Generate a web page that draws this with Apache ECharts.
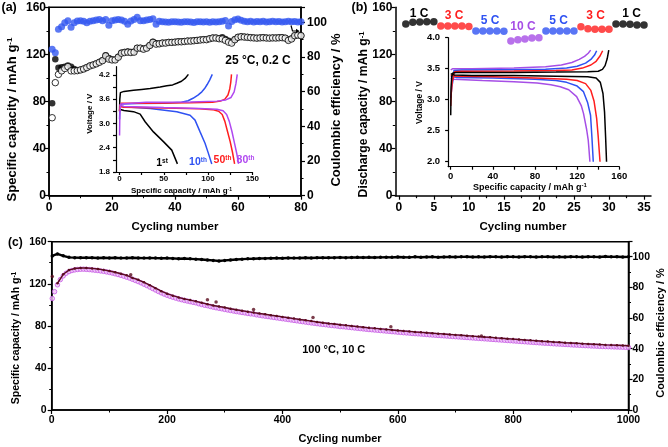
<!DOCTYPE html>
<html><head><meta charset="utf-8">
<script src="https://cdn.jsdelivr.net/npm/echarts@6/dist/echarts.min.js"></script>
<style>html,body{margin:0;padding:0;background:#fff}#c{width:668px;height:447px}</style>
</head><body><div id="c"></div>
<script>
// ================= Panel (a): 25 °C, 0.2 C =================
const aDischarge = [66.2,96,103,106,108,109.6,106,106,106.2,106.8,
 107.6,108.8,110.2,111,112,113.3,114.7,118.7,116,115.3,
 115.3,117.6,121,121.6,121.9,121.6,121.9,125.3,125.3,124.4,
 125.3,127.6,130.2,128.7,129,129.6,129.6,130.2,130.2,130.4,
 130.7,130.7,131,131.3,131.3,131.6,131.9,132.2,132.5,132.5,
 133.3,133.9,133.9,133.3,133.1,131.9,130.4,129.6,132.5,134.5,
 135,134.7,134.5,134.2,134,133.8,134,134.2,133.9,133.8,
 134,133.9,134.1,134.2,133.8,131.9,133.1,135.9,136.4,135.9];
const aCharge = [78.5,115.8,108.6,109,109.5,110.5,109.5,107.5,106.5,107,
 107.8,109,110.4,111.2,112.2,113.5,115,119.2,117,115.6,
 115.5,118,121.3,122,122.4,122,122.2,125.5,125.5,124.7,
 125.5,127.8,130.8,129.5,129.2,129.8,129.8,130.4,130.4,130.6,
 130.9,130.9,131.2,131.5,131.5,131.8,132.1,132.4,132.7,132.7,
 133.5,134.1,134.1,133.6,134.5,133,131.5,130.5,132.8,134.7,
 135.2,134.9,134.7,134.4,134.2,134,134.2,134.4,134.1,134,
 134.2,134.1,134.3,134.4,134,132.5,133.5,136.1,136.6,136.1];
const aCE = [84.4,82.4,95.9,97.4,99.7,100.9,97.1,99.7,100.7,100.9,
 100.5,99.7,100.5,100.9,101.3,101.6,100.9,101.6,98.3,100.9,
 101.3,101.6,101.3,100.5,98.9,100.7,101.6,102.8,100.9,100.9,
 101.3,101.6,102,98.9,100.5,100.3,100.1,100,100.2,100.3,
 100.1,100,100.2,100.3,100.1,99.9,100.2,100.3,100.1,100.2,
 100,100.3,100.1,100.2,100.6,101,97.8,100.4,101.4,101.8,
 101.2,100.6,100.3,100.5,100.1,100.4,100.2,100.6,100.1,100.3,
 100.5,100.2,100.4,100.1,100.3,100.5,100.2,100.4,100.1,100.3];

// inset (a): voltage profiles (cycles 1, 10, 50, 80)
const a1ChargeCap = [0,0.3,1,5,15.8,25,34.6,45.9,53.4,60,64.7,70,74.1,77.8];
const a1ChargeV   = [3.3,3.6,3.76,3.79,3.82,3.84,3.86,3.9,3.93,3.95,3.99,4.04,4.11,4.21];
const a1DischCap  = [0,5,15.8,23.3,28.9,38.3,49.6,59,65.4];
const a1DischV    = [3.35,3.32,3.29,3.23,3.04,2.79,2.55,2.34,2.0];
const a10ChargeCap = [0,0.5,2,20,50,70,77.4,83,88.6,93,96.1,99,101.8,104.8];
const a10ChargeV   = [3.1,3.4,3.48,3.49,3.5,3.52,3.56,3.62,3.7,3.78,3.86,3.96,4.07,4.21];
const a10DischCap  = [0,5,34.6,64.7,79.7,85.3,91,96.6,100.4,104.2];
const a10DischV    = [3.43,3.41,3.37,3.29,3.2,3.08,2.79,2.51,2.26,2.0];
const a50ChargeCap = [0,0.5,2,30,80,105,114,119,122.5,124.5,125.7,126.5];
const a50ChargeV   = [3.3,3.45,3.5,3.5,3.51,3.52,3.55,3.6,3.7,3.85,4.02,4.21];
const a50DischCap  = [0,5,50,90,105,112,116,119,122,125,127.5,130];
const a50DischV    = [3.42,3.4,3.38,3.36,3.34,3.3,3.22,3.05,2.8,2.55,2.3,2.0];
const a80ChargeCap = [0,0.3,1,3,30,80,110,120,126,129.5,131.5,133];
const a80ChargeV   = [2.7,3.2,3.48,3.52,3.52,3.53,3.55,3.58,3.64,3.78,3.98,4.21];
const a80DischCap  = [0,5,50,90,110,117,121,124,127,130,132.5,134.5];
const a80DischV    = [3.45,3.42,3.39,3.37,3.35,3.31,3.22,3.05,2.8,2.5,2.25,2.0];
const aInsetXLabels = [0,50,100,150];
const aInsetXTicks = [0,25,50,75,100,125,150];
const aInsetYLabels = [1.8,2.4,3.0,3.6,4.2];
const aInsetYTicks = [1.8,2.1,2.4,2.7,3.0,3.3,3.6,3.9,4.2];

// ================= Panel (b): rate capability =================
const bRates = ['1 C','3 C','5 C','10 C','5 C','3 C','1 C'];
const bCapacity = [
 [145.8,147.2,147.5,147.8,147.8],
 [144.1,144.1,144.1,144.1,143.6],
 [139.9,139.9,139.9,139.9,139.6],
 [131.4,132.5,133.1,133.9,134.2],
 [139.9,139.9,139.9,139.9,139.9],
 [143.5,141.8,141.3,141.3,141.3],
 [145.8,145.8,145.5,145,145]];
const bXLabels = [0,5,10,15,20,25,30,35];
const bXMinor = [2.5,7.5,12.5,17.5,22.5,27.5,32.5];

// inset (b): profiles at 1, 3, 5, 10 C
const b1ChargeCap = [0,0.3,1,2,5,20,60,100,130,140,144,146.5,148.5,150];
const b1ChargeV   = [2.75,3.2,3.38,3.43,3.44,3.44,3.44,3.445,3.45,3.46,3.49,3.55,3.66,3.8];
const b1DischCap  = [0,3,20,60,100,130,138,142,144.5,146,147,147.9];
const b1DischV    = [3.42,3.4,3.39,3.39,3.38,3.37,3.35,3.28,3.1,2.8,2.4,2.0];
const b3ChargeCap = [0,0.5,1.5,2.5,3.5,10,60,100,115,125,133,138,141.5,144.2];
const b3ChargeV   = [2.9,3.1,3.3,3.35,3.45,3.46,3.465,3.47,3.48,3.51,3.56,3.62,3.7,3.79];
const b3DischCap  = [0,5,40,80,110,120,128,133,136,138.5,140,141.7];
const b3DischV    = [3.4,3.38,3.37,3.35,3.33,3.31,3.26,3.15,2.98,2.7,2.4,2.0];
const b5ChargeCap = [0,1,2.5,3,10,50,90,110,120,128,133,136.5,138.5];
const b5ChargeV   = [3.03,3.2,3.35,3.47,3.48,3.485,3.49,3.51,3.54,3.59,3.65,3.72,3.79];
const b5DischCap  = [0,5,40,80,100,110,120,126,130,132.7,134,135.3];
const b5DischV    = [3.38,3.36,3.35,3.33,3.31,3.28,3.22,3.13,2.95,2.75,2.4,2.0];
const b10ChargeCap = [0,2,20,60,90,105,115,122,127,130.5,132.8];
const b10ChargeV   = [3.48,3.5,3.5,3.51,3.53,3.56,3.6,3.65,3.7,3.75,3.8];
const b10DischCap  = [0,3,30,60,82,95,104,112,119.5,124,126,127.5,129,130.5,131,131.5,132.1];
const b10DischV    = [3.35,3.33,3.31,3.29,3.27,3.24,3.21,3.16,3.05,2.9,2.78,2.65,2.52,2.35,2.25,2.25,2.0];
const bInsetXLabels = [0,40,80,120,160];
const bInsetXTicks = [0,20,40,60,80,100,120,140,160];
const bInsetYLabels = [2.0,2.5,3.0,3.5,4.0];

// ================= Panel (c): 100 °C, 10 C, 1000 cycles =================
// discharge capacity, cycle 1 then every 5 cycles (5, 10, ..., 1000)
const cDischarge = [106,112.5,119,124,127.5,130,131.6,132.6,133.2,133.6,
 133.8,133.9,133.7,133.5,133.2,132.9,132.6,132.2,131.8,131.3,
 130.8,130.2,129.5,128.8,128,127.2,126.3,125.4,124.3,123.2,
 122.1,120.9,119.6,118.3,116.9,115.5,114.1,112.7,111.4,110.2,
 109.1,108.1,107.2,106.4,105.6,104.9,104.2,103.6,103,102.4,
 101.9,101,100.3,99.6,99.2,98.4,97.8,97.2,96.7,96.2,
 95.6,95.1,94.6,94.1,93.6,93.2,92.7,92.3,91.8,91.4,
 91.2,90.5,90.1,89.6,89.2,88.8,88.4,88,87.6,87.2,
 86.8,86.4,86,85.6,85.2,84.8,84.4,84,83.6,83.2,
 82.8,82.5,82.1,81.7,81.4,81.1,80.7,80.4,80.1,79.8,
 79.3,79.2,78.9,78.6,78.3,78,77.7,77.4,77.1,76.8,
 76.5,76.3,76,75.8,75.5,75.3,75,74.8,74.5,74.3,
 74,73.8,73.5,73.3,73.1,72.8,72.6,72.4,72.2,72,
 71.8,71.5,71.3,71.1,70.9,70.7,70.5,70.3,70.1,69.9,
 69.7,69.5,69.3,69.1,68.9,68.7,68.5,68.3,68.1,67.9,
 67.7,67.5,67.3,67.1,66.9,66.7,66.5,66.3,66.1,65.9,
 65.7,65.5,65.3,65.1,64.9,64.7,64.5,64.3,64.1,63.9,
 63.7,63.5,63.4,63.2,63,62.8,62.7,62.5,62.3,62.2,
 62,61.8,61.7,61.5,61.4,61.2,61.1,60.9,60.8,60.7,
 60.5,60.4,60.3,60.2,60.1,60,59.9,59.8,59.7,59.6,
 59.5];
// charge capacity every 10 cycles (10, 20, ..., 1000)
const cCharge = [120.5,129,133,134.5,135,135,134.6,134,133.2,132.2,
 131,129.5,128,125.6,123.8,121.4,118.6,115.8,113,110.6,
 108.7,107,105.6,104.5,103.3,102,100.6,99.4,98.4,97.4,
 96.3,95.3,94.4,93.5,92.6,91.8,91,90.1,89.3,88.5,
 87.7,86.9,86.1,85.3,84.5,83.7,83,82.3,81.7,81.1,
 80.5,79.9,79.3,78.7,78.1,77.6,77.1,76.6,76.1,75.6,
 75.1,74.7,74.2,73.8,73.4,73,72.6,72.2,71.8,71.4,
 71,70.6,70.2,69.8,69.4,69.1,68.6,68.2,67.8,67.4,
 67,66.6,66.2,65.8,65.4,65.1,64.7,64.4,64,63.7,
 63.4,63.1,62.8,62.5,62.2,61.9,61.7,61.5,61.3,61.1];
// isolated high charge-capacity points [cycle, capacity]
const cChargeOutliers = [[1,127],[137,128.6],[270,104.8],[285,102.6],[350,95.6],[453,88],[588,79.2],[745,70.3]];
// coulombic efficiency, cycle 1 then every 10 cycles
const cCE = [100.5,101.8,100.6,99.6,99.4,99.3,99.4,99.3,99.2,99.3,99.2,
 99.3,99.1,99.2,99.3,99.2,99.1,99.2,99.1,99,99.1,
 98.9,98.7,98.8,98.6,98.4,98.2,97.9,97.6,97.2,97.6,
 97.9,98.2,98.4,98.6,98.7,98.8,98.9,99,99.1,99,
 99.2,99.1,99.2,99.3,99.2,99.3,99.4,99.3,99.4,99.5,
 99.4,99.5,99.6,99.5,99.6,99.5,99.6,99.7,99.6,99.8,
 99.7,99.6,99.9,99.7,99.8,99.9,99.7,99.8,99.9,99.8,
 99.9,100,99.8,99.9,99.8,100,99.9,99.8,100,99.9,
 99.8,100,99.9,99.8,99.9,100,99.8,99.9,99.8,100,
 99.9,99.8,100,99.9,99.8,100.1,99.9,100,99.8,99.9];

// ================= chart =================
const FF = '"Liberation Sans", Arial, Helvetica, sans-serif';
const BLUE = '#2f52f2', RED = '#ff1e1e', PURPLE = '#a64ee6', BLACK = '#000';
const rateColor = {'1 C':BLACK,'3 C':RED,'5 C':BLUE,'10 C':PURPLE};
const zip = (xs, ys) => xs.map((x, i) => [x, ys[i]]);

function axis(p) {
  const a = {
    type: 'value', gridIndex: p.grid, min: p.min, max: p.max, position: p.position,
    axisLine: {show: p.line !== false, onZero: false, lineStyle: {color: '#000', width: p.lw || 1.5}},
    axisTick: {show: p.ticks !== false, inside: false, length: p.tickLen || 4, lineStyle: {color: '#000', width: 1.2}},
    minorTick: {show: !!p.minor, splitNumber: p.minor || 2, length: p.minorLen || 2.5, lineStyle: {color: '#000', width: 1}},
    axisLabel: {show: p.labels !== false, color: '#000', fontFamily: FF, fontWeight: 'bold', fontSize: p.fs || 12, margin: p.margin == null ? 4 : p.margin,
      formatter: v => String(v)},
    splitLine: {show: false}, splitArea: {show: false}
  };
  if (p.interval != null) a.interval = p.interval;
  if (p.labelValues) a.axisLabel.customValues = p.labelValues;
  if (p.tickValues) a.axisTick.customValues = p.tickValues;
  if (p.formatter) a.axisLabel.formatter = p.formatter;
  return a;
}
const fmt1 = v => Number(v).toFixed(1);
const fmtCE = v => (Math.abs(v % 20) < 1e-6 && v <= 100) ? String(v) : '';

function T(x, y, text, size, o) {
  o = o || {};
  const st = {text: text, fill: o.color || '#000', font: 'bold ' + size + 'px ' + FF,
    align: o.align || 'center', verticalAlign: o.va || 'middle',
    textAlign: o.align || 'center', textVerticalAlign: o.va || 'middle'};
  if (o.rich) st.rich = o.rich;
  return {type: 'text', x: x, y: y, rotation: o.rot || 0, z: 100, style: st};
}
function supRich(size, sub, color) {
  color = color || '#000';
  return {m: {fontSize: size, fontWeight: 'bold', fontFamily: FF, fill: color, color: color},
          s: {fontSize: sub, fontWeight: 'bold', fontFamily: FF, fill: color, color: color, verticalAlign: 'top'}};
}
const R90 = Math.PI / 2;

const lineS = (xi, yi, data, color) => ({type: 'line', xAxisIndex: xi, yAxisIndex: yi, data: data,
  showSymbol: false, symbol: 'none', smooth: false, lineStyle: {color: color, width: 1.5}, z: 3, silent: true});

// panel (b) points
const bPoints = [];
bCapacity.forEach((seg, s) => seg.forEach((v, j) => {
  bPoints.push({value: [s * 5 + j + 1, v], itemStyle: {color: rateColor[bRates[s]]}});
}));

const option = {
  animation: false,
  backgroundColor: '#fff',
  textStyle: {fontFamily: FF},
  grid: [
    {left: 49, top: 7.3, width: 252, height: 188.4, show: true, borderColor: '#000', borderWidth: 1.5, backgroundColor: 'transparent'},
    {left: 116, top: 66.7, width: 136.3, height: 105.3},
    {left: 395.3, top: 7.3, width: 255.7, height: 188.4},
    {left: 448.1, top: 37.7, width: 171.2, height: 129},
    {left: 51.7, top: 241.7, width: 576.8, height: 168.3, show: true, borderColor: '#000', borderWidth: 1.5, backgroundColor: 'transparent'}
  ],
  xAxis: [
    axis({grid: 0, min: 0, max: 80, interval: 20, minor: 2, margin: 6, position: 'bottom'}),
    axis({grid: 1, min: -4, max: 150, labelValues: aInsetXLabels, tickValues: aInsetXTicks, fs: 8, margin: 3, tickLen: 3, lw: 1.2, position: 'bottom'}),
    axis({grid: 2, min: -0.5, max: 36, labelValues: bXLabels, tickValues: bXLabels, margin: 6, position: 'bottom'}),
    axis({grid: 2, min: -0.5, max: 36, line: false, labels: false, tickValues: bXMinor, labelValues: bXMinor, tickLen: 2.5, position: 'bottom'}),
    axis({grid: 3, min: -2.5, max: 160, labelValues: bInsetXLabels, tickValues: bInsetXTicks, fs: 9.5, margin: 5, tickLen: 3, lw: 1.2, position: 'bottom'}),
    axis({grid: 4, min: 0, max: 1000, interval: 200, minor: 2, fs: 10.5, margin: 5, position: 'bottom'})
  ],
  yAxis: [
    axis({grid: 0, min: 0, max: 160, interval: 40, minor: 2, margin: 3, position: 'left'}),
    axis({grid: 0, min: 0, max: 108.6, interval: 20, minor: 2, margin: 6, position: 'right', formatter: fmtCE}),
    axis({grid: 1, min: 1.8, max: 4.4, labelValues: aInsetYLabels, tickValues: aInsetYTicks, formatter: fmt1, fs: 8, margin: 6, tickLen: 3, lw: 1.2, position: 'left'}),
    axis({grid: 2, min: 0, max: 160, interval: 40, minor: 2, margin: 3, position: 'left'}),
    axis({grid: 3, min: 1.92, max: 4.0, labelValues: bInsetYLabels, tickValues: bInsetYLabels, formatter: fmt1, fs: 9.5, margin: 8, tickLen: 3, lw: 1.2, position: 'left'}),
    axis({grid: 4, min: 0, max: 160, interval: 40, minor: 2, fs: 10.5, margin: 5, position: 'left'}),
    axis({grid: 4, min: 0, max: 109.8, interval: 20, minor: 2, fs: 10.5, margin: 4, position: 'right', formatter: fmtCE})
  ],
  series: [
    // (a)
    {type: 'scatter', xAxisIndex: 0, yAxisIndex: 0, data: aCharge.map((v, i) => [i + 1, v]),
      symbolSize: 6.5, itemStyle: {color: BLACK}, z: 2, silent: true},
    {type: 'scatter', xAxisIndex: 0, yAxisIndex: 0, data: aDischarge.map((v, i) => [i + 1, v]),
      symbolSize: 6.5, itemStyle: {color: '#fff', borderColor: BLACK, borderWidth: 1}, z: 3, silent: true},
    {type: 'scatter', xAxisIndex: 0, yAxisIndex: 1, data: aCE.map((v, i) => [i + 1, v]),
      symbolSize: 7, itemStyle: {color: '#3358f0'}, z: 4, silent: true},
    // (a) inset
    lineS(1, 2, zip(a1ChargeCap, a1ChargeV), BLACK),
    lineS(1, 2, zip(a1DischCap, a1DischV), BLACK),
    lineS(1, 2, zip(a10ChargeCap, a10ChargeV), BLUE),
    lineS(1, 2, zip(a10DischCap, a10DischV), BLUE),
    lineS(1, 2, zip(a50ChargeCap, a50ChargeV), RED),
    lineS(1, 2, zip(a50DischCap, a50DischV), RED),
    lineS(1, 2, zip(a80ChargeCap, a80ChargeV), '#b048f0'),
    lineS(1, 2, zip(a80DischCap, a80DischV), '#b048f0'),
    // (b)
    {type: 'scatter', xAxisIndex: 2, yAxisIndex: 3, data: bPoints, symbolSize: 7.5, z: 3, silent: true},
    // (b) inset
    lineS(4, 4, zip(b10ChargeCap, b10ChargeV), PURPLE),
    lineS(4, 4, zip(b10DischCap, b10DischV), PURPLE),
    lineS(4, 4, zip(b5ChargeCap, b5ChargeV), BLUE),
    lineS(4, 4, zip(b5DischCap, b5DischV), BLUE),
    lineS(4, 4, zip(b3ChargeCap, b3ChargeV), RED),
    lineS(4, 4, zip(b3DischCap, b3DischV), RED),
    lineS(4, 4, zip(b1ChargeCap, b1ChargeV), BLACK),
    lineS(4, 4, zip(b1DischCap, b1DischV), BLACK),
    // (c)
    {type: 'scatter', xAxisIndex: 5, yAxisIndex: 5, data: cDischarge.map((v, i) => [i === 0 ? 1 : i * 5, v]),
      symbolSize: 4.5, itemStyle: {color: '#f1c4f8', borderColor: '#c458e4', borderWidth: 1}, z: 2, silent: true},
    {type: 'line', xAxisIndex: 5, yAxisIndex: 5, data: cCharge.map((v, i) => [(i + 1) * 10, v]),
      symbol: 'circle', symbolSize: 2.5, showSymbol: true, itemStyle: {color: '#5a0c1e'}, lineStyle: {color: '#5a0c1e', width: 1.4}, z: 3, silent: true},
    {type: 'scatter', xAxisIndex: 5, yAxisIndex: 5, data: cChargeOutliers,
      symbolSize: 3.5, itemStyle: {color: '#5a0c1e'}, z: 3, silent: true},
    {type: 'line', xAxisIndex: 5, yAxisIndex: 6, data: cCE.map((v, i) => [i === 0 ? 1 : i * 10, v]),
      symbol: 'circle', symbolSize: 3.5, showSymbol: true, itemStyle: {color: '#000'}, lineStyle: {color: '#000', width: 2.4}, z: 3, silent: true}
  ],
  graphic: [
    // panel labels
    T(1.5, 7.5, '(a)', 12.5, {align: 'left'}),
    T(351.5, 7.5, '(b)', 12.5, {align: 'left'}),
    T(8, 242.5, '(c)', 12, {align: 'left'}),
    // (a) axis titles
    T(12, 119.5, '{m|Specific capacity / mAh g}{s|-1}', 13, {rot: R90, rich: supRich(13, 8)}),
    T(336, 110, 'Coulombic efficiency / %', 13, {rot: R90}),
    T(175, 227.3, 'Cycling number', 11.5),
    T(258, 61, '25 °C, 0.2 C', 12),
    // (a) inset titles and labels
    T(181.5, 190.7, '{m|Specific capacity / mAh g}{s|-1}', 8, {rich: supRich(8, 5)}),
    T(89.3, 113.7, 'Voltage / V', 8, {rot: R90}),
    T(162, 163, '{m|1}{s|st}', 10.5, {rich: supRich(10.5, 6.5, BLACK)}),
    T(198, 162, '{m|10}{s|th}', 10.5, {rich: supRich(10.5, 6.5, BLUE)}),
    T(222.5, 160, '{m|50}{s|th}', 10.5, {rich: supRich(10.5, 6.5, RED)}),
    T(245.5, 160, '{m|80}{s|th}', 10.5, {rich: supRich(10.5, 6.5, '#b048f0')}),
    // (a) small arrow
    {type: 'polyline', z: 100, shape: {points: [[291, 25.5], [292.5, 31], [297, 31]]}, style: {stroke: '#000', lineWidth: 1.2, fill: null}},
    {type: 'polygon', z: 100, shape: {points: [[296, 28.8], [299.5, 31], [296, 33.2]]}, style: {fill: '#000'}},
    // (b) titles
    T(363.5, 114.5, '{m|Discharge capacity / mAh g}{s|-1}', 12.2, {rot: R90, rich: supRich(12.2, 7.5)}),
    T(523, 227.3, 'Cycling number', 11.5),
    T(530, 187.3, '{m|Specific capacity / mAh g}{s|-1}', 9, {rich: supRich(9, 6)}),
    T(420, 102.5, 'Voltage / V', 8.5, {rot: R90}),
    // (b) rate labels
    T(419, 13.3, '1 C', 12, {color: BLACK}),
    T(454, 16, '3 C', 12, {color: RED}),
    T(490, 20.7, '5 C', 12, {color: BLUE}),
    T(523, 26.7, '10 C', 12, {color: PURPLE}),
    T(558.5, 20.7, '5 C', 12, {color: BLUE}),
    T(595.5, 16, '3 C', 12, {color: RED}),
    T(631.5, 13.3, '1 C', 12, {color: BLACK}),
    // (c) titles
    T(16, 338, '{m|Specific capacity / mAh g}{s|-1}', 10.5, {rot: R90, rich: supRich(10.5, 6.5)}),
    T(660.5, 333, 'Coulombic efficiency / %', 11, {rot: R90}),
    T(340, 439, 'Cycling number', 11),
    T(333.7, 350, '100 °C, 10 C', 11)
  ]
};
const chart = echarts.init(document.getElementById('c'), null, {renderer: 'canvas', width: 668, height: 447});
chart.setOption(option);
</script></body></html>
